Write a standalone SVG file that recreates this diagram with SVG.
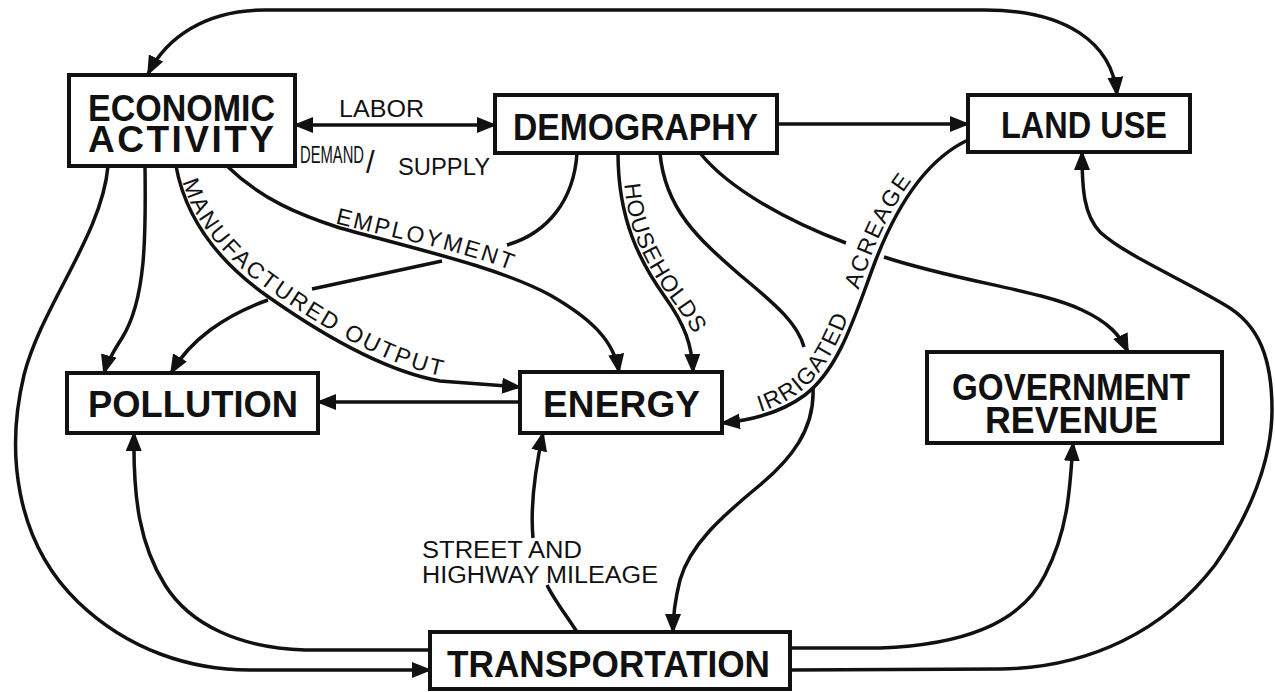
<svg xmlns="http://www.w3.org/2000/svg" width="1275" height="692" viewBox="0 0 1275 692">
<style>
.box{fill:#fff;stroke:#111;stroke-width:4}
.t{font-family:"Liberation Sans",Arial,sans-serif;font-weight:bold;font-size:37px;fill:#111}
.lb{font-family:"Liberation Sans",Arial,sans-serif;font-size:23px;fill:#111}
.c{fill:none;stroke:#111;stroke-width:3.5}
.a{marker-end:url(#ah)}
.aa{marker-start:url(#ah);marker-end:url(#ah)}
</style>
<defs>
<marker id="ah" markerUnits="userSpaceOnUse" markerWidth="20" markerHeight="16" refX="18" refY="8" orient="auto-start-reverse" viewBox="0 0 20 16"><path d="M0,0 L20,8 L0,16 z" fill="#111"/></marker>
<path id="tp-emp" d="M 330,222 C 400,240 470,252 525,276"/>
<path id="tp-man" d="M 180,172 C 189,214 219,256 273,293 C 333,335 392,366 441,376 L 470,379"/>
<path id="tp-hh" d="M 624,178 C 626,228 646,265 670,298 C 688,322 697,338 702,350"/>
<path id="tp-irr" d="M 717,420 C 750,417 777,409 800,392 C 835,365 850,312 870,259 C 890,207 920,157 963,137"/>
</defs>
<rect width="1275" height="692" fill="#fff"/>
<g id="connectors">
<path class="c aa" d="M 1117,95 C 1112,42 1065,10 985,10 L 265,10 C 205,10 166,38 148,74"/>
<path class="c aa" d="M 295,125 L 495,125"/>
<path class="c a" d="M 777,124 L 968,124"/>
<path class="c a" d="M 145,166 C 146,235 146,300 122,338 C 113,352 107,362 104,373"/>
<path class="c a" d="M 108,166 C 102,235 42,305 24,375 C 6,450 14,540 78,602 C 128,650 190,670 250,670 L 430,670"/>
<path class="c a" d="M 176,166 C 185,215 215,260 270,298 C 330,340 390,372 440,381 L 520,387"/>
<path class="c a" d="M 227,166 C 262,200 300,215 340,228 C 420,250 500,268 550,295 C 590,318 614,340 619,372"/>
<path class="c" d="M 577,153 C 574,200 548,233 507,245"/>
<path class="c" d="M 442,261 L 312,289"/>
<path class="c a" d="M 268,300 C 225,315 190,340 171,373"/>
<path class="c a" d="M 618,153 C 618,220 640,262 665,297 C 685,325 692,345 693,372"/>
<path class="c" d="M 660,153 C 665,210 700,240 740,275 C 780,308 798,325 804,347"/>
<path class="c a" d="M 813,388 C 815,430 790,460 760,485 C 720,518 690,545 680,580 C 675,600 673,615 673,632"/>
<path class="c" d="M 700,153 C 730,190 790,222 846,243"/>
<path class="c a" d="M 884,257 C 960,282 1040,290 1082,310 C 1108,322 1120,335 1128,352"/>
<path class="c a" d="M 968,140 C 925,160 895,210 875,262 C 855,315 840,368 805,395 C 782,412 755,420 722,423"/>
<path class="c" d="M 577,632 C 566,615 553,598 547,585"/>
<path class="c a" d="M 533,538 C 530,505 535,470 543,433"/>
<path class="c a" d="M 520,402 L 318,402"/>
<path class="c a" d="M 430,650 L 305,650 C 240,648 190,625 165,585 C 140,545 133,500 134,433"/>
<path class="c a" d="M 790,648 L 880,648 C 960,645 1020,625 1045,575 C 1068,530 1070,490 1073,443"/>
<path class="c a" d="M 790,670 L 1000,669 C 1090,668 1165,630 1215,565 C 1250,515 1272,460 1272,410 C 1272,360 1260,325 1225,305 C 1180,278 1125,255 1100,232 C 1084,215 1082,190 1082,152"/>
<text class="lb" x="339" y="117" textLength="85" lengthAdjust="spacingAndGlyphs">LABOR</text>
<text class="lb" x="300" y="163" style="font-size:24px" textLength="64" lengthAdjust="spacingAndGlyphs">DEMAND</text>
<text class="lb" x="366" y="173" style="font-size:31px">/</text>
<text class="lb" x="398" y="175" textLength="92" lengthAdjust="spacingAndGlyphs">SUPPLY</text>
<text class="lb"><textPath href="#tp-emp" startOffset="5" textLength="182" lengthAdjust="spacing">EMPLOYMENT</textPath></text>
<text class="lb"><textPath href="#tp-man" startOffset="10" textLength="335" lengthAdjust="spacing">MANUFACTURED OUTPUT</textPath></text>
<text class="lb"><textPath href="#tp-hh" startOffset="6" textLength="168" lengthAdjust="spacing">HOUSEHOLDS</textPath></text>
<text class="lb"><textPath href="#tp-irr" startOffset="44" textLength="135" lengthAdjust="spacing">IRRIGATED</textPath></text>
<text class="lb"><textPath href="#tp-irr" startOffset="208" textLength="122" lengthAdjust="spacing">ACREAGE</textPath></text>
<text class="lb" x="422" y="558" textLength="160" lengthAdjust="spacingAndGlyphs">STREET AND</text>
<text class="lb" x="422" y="583" textLength="236" lengthAdjust="spacingAndGlyphs">HIGHWAY MILEAGE</text>
</g>
<g id="economic-activity">
<rect class="box" x="69" y="75" width="226" height="91"/>
<text class="t" x="88" y="121" textLength="187" lengthAdjust="spacingAndGlyphs">ECONOMIC</text>
<text class="t" x="88" y="152" textLength="186" lengthAdjust="spacing">ACTIVITY</text>
</g>
<g id="demography">
<rect class="box" x="495" y="95" width="282" height="58"/>
<text class="t" x="513" y="140" textLength="245" lengthAdjust="spacingAndGlyphs">DEMOGRAPHY</text>
</g>
<g id="land-use">
<rect class="box" x="968" y="95" width="222" height="57"/>
<text class="t" x="1001" y="138" textLength="166" lengthAdjust="spacingAndGlyphs">LAND USE</text>
</g>
<g id="pollution">
<rect class="box" x="67" y="373" width="251" height="60"/>
<text class="t" x="88" y="417" textLength="210" lengthAdjust="spacingAndGlyphs">POLLUTION</text>
</g>
<g id="energy">
<rect class="box" x="520" y="372" width="202" height="61"/>
<text class="t" x="543" y="417" textLength="157" lengthAdjust="spacing">ENERGY</text>
</g>
<g id="government-revenue">
<rect class="box" x="927" y="352" width="295" height="91"/>
<text class="t" x="952" y="400" textLength="238" lengthAdjust="spacingAndGlyphs">GOVERNMENT</text>
<text class="t" x="985" y="433" textLength="173" lengthAdjust="spacingAndGlyphs">REVENUE</text>
</g>
<g id="transportation">
<rect class="box" x="430" y="632" width="360" height="57"/>
<text class="t" x="447" y="677" textLength="323" lengthAdjust="spacingAndGlyphs">TRANSPORTATION</text>
</g>
</svg>
